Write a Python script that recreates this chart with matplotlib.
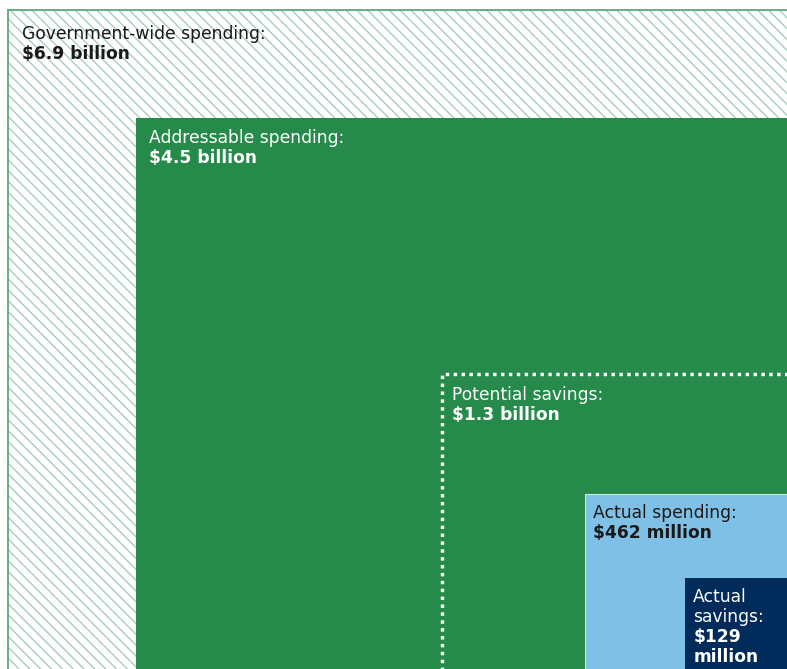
import matplotlib
matplotlib.use("Agg")
import numpy as np
import matplotlib.pyplot as plt
from matplotlib.patches import Rectangle

# Spending figures (billions of dollars), nested from largest to smallest
labels = ["Government-wide spending:", "Addressable spending:",
          "Potential savings:", "Actual spending:", "Actual\nsavings:"]
value_labels = ["$6.9 billion", "$4.5 billion", "$1.3 billion",
                "$462 million", "$129\nmillion"]
values_bn = [6.9, 4.5, 1.3, 0.462, 0.129]

# Styling
GREEN = "#268a4a"
LIGHT_BLUE = "#7fc1e6"
NAVY = "#002b5a"
FRAME = "#5aa97b"
HATCH = "#9fcbb3"
text_colors = ["#1a1a1a", "white", "white", "#1a1a1a", "white"]
label_offsets = [(14, 15), (13, 11), (10, 12), (8, 10), (8, 10)]  # pixels from box corner
LINE_PX = 20

DPI = 130
W, H = 787, 669
plt.rcParams["hatch.color"] = HATCH
plt.rcParams["hatch.linewidth"] = 0.7
plt.rcParams["font.family"] = ["DejaVu Sans"]

fig = plt.figure(figsize=(W / DPI, H / DPI), dpi=DPI)
fig.patch.set_facecolor("white")

# Axes covers the outer (government-wide) panel
left_px, top_px = 8, 10
ax = fig.add_axes([left_px / W, 0, 1 - left_px / W, 1 - top_px / H])

# Squares are sized by sqrt(value) and share the bottom-right corner at (0, 0)
kx, ky = 311.7, 260.9          # pixels per sqrt-unit horizontally / vertically
x_right = (787 - 797.3) / kx
y_bottom = (671.7 - 669) / ky
ax.set_xlim(x_right - (W - left_px) / kx, x_right)
ax.set_ylim(y_bottom, y_bottom + (H - top_px) / ky)

# Hatched background of the outer panel
ax.add_patch(Rectangle((0, 0), 1, 1, transform=ax.transAxes, facecolor="white",
                       edgecolor=None, hatch="\\\\\\\\", lw=0, zorder=0))

for name, sp in ax.spines.items():
    if name in ("left", "top"):
        sp.set_color(FRAME)
        sp.set_linewidth(1.0)
    else:
        sp.set_visible(False)
ax.set_xticks([])
ax.set_yticks([])

sides = np.sqrt(values_bn)

# Addressable spending
s = sides[1]
ax.add_patch(Rectangle((-s, 0), s, s, facecolor=GREEN, edgecolor="none", zorder=1))
# Potential savings (dotted outline)
s = sides[2]
ax.add_patch(Rectangle((-s, 0), s, s, facecolor="none", edgecolor="white",
                       lw=1.9, linestyle=(0, (1.0, 1.3)), capstyle="butt", zorder=2))
# Actual spending
s = sides[3]
ax.add_patch(Rectangle((-s, 0), s, s, facecolor=LIGHT_BLUE, edgecolor="#c9e8da",
                       lw=0.6, zorder=3))
# Actual savings
s = sides[4]
ax.add_patch(Rectangle((-s, 0), s, s, facecolor=NAVY, edgecolor="none", zorder=4))

FS = 9.5
for i in range(len(values_bn)):
    if i == 0:
        xy, coords = (0, 1), "axes fraction"
    else:
        xy, coords = (-sides[i], sides[i]), "data"
    dx, dy = label_offsets[i]
    n_lines = labels[i].count("\n") + 1
    ax.annotate(labels[i], xy=xy, xycoords=coords, xytext=(dx, -dy),
                textcoords="offset pixels", ha="left", va="top", fontsize=FS,
                color=text_colors[i], linespacing=1.13, zorder=10)
    ax.annotate(value_labels[i], xy=xy, xycoords=coords,
                xytext=(dx, -dy - LINE_PX * n_lines), textcoords="offset pixels",
                ha="left", va="top", fontsize=FS, fontweight="bold",
                color=text_colors[i], linespacing=1.13, zorder=10)

fig.savefig("out.png", dpi=DPI)
